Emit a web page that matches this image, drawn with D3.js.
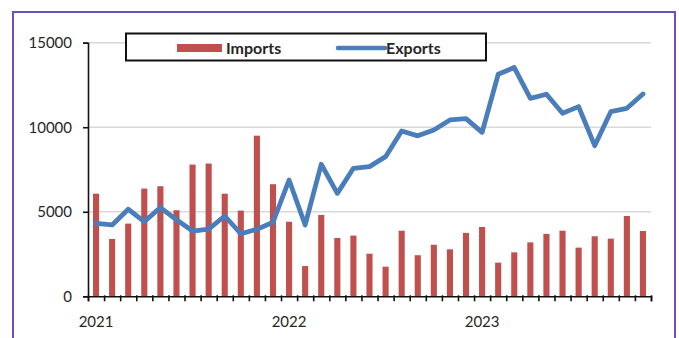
<!DOCTYPE html>
<html>
<head>
<meta charset="utf-8">
<script src="https://cdn.jsdelivr.net/npm/d3@7"></script>
<style>
  html, body { margin: 0; padding: 0; background: #fff; }
  svg { display: block; }
  text { font-family: Lato, "Open Sans", sans-serif; fill: #262626; }
</style>
</head>
<body>
<svg id="chart" width="679" height="338"></svg>
<script>
// Monthly trade, Jan 2021 – Nov 2023
const months = [
  "2021-01","2021-02","2021-03","2021-04","2021-05","2021-06","2021-07","2021-08","2021-09","2021-10","2021-11","2021-12",
  "2022-01","2022-02","2022-03","2022-04","2022-05","2022-06","2022-07","2022-08","2022-09","2022-10","2022-11","2022-12",
  "2023-01","2023-02","2023-03","2023-04","2023-05","2023-06","2023-07","2023-08","2023-09","2023-10","2023-11"
];
const importValues = [
  6070, 3390, 4300, 6370, 6510, 5090, 7790, 7850, 6070, 5070, 9500, 6630,
  4410, 1790, 4810, 3450, 3590, 2520, 1750, 3880, 2430, 3050, 2780, 3750,
  4100, 1990, 2600, 3190, 3690, 3880, 2880, 3550, 3410, 4750, 3860
];
const exportValues = [
  4320, 4220, 5150, 4420, 5250, 4530, 3860, 3980, 4750, 3700, 3960, 4380,
  6880, 4220, 7810, 6090, 7570, 7670, 8260, 9780, 9490, 9840, 10430, 10510,
  9700, 13130, 13530, 11710, 11950, 10830, 11220, 8910, 10920, 11120, 11970
];
const yTicks = [0, 5000, 10000, 15000];
const yearLabels = [
  { month: "2021-01", label: "2021" },
  { month: "2022-01", label: "2022" },
  { month: "2023-01", label: "2023" }
];
const seriesNames = ["Imports", "Exports"];

const RED = "#c0504d";
const BLUE = "#4a7ebb";

const svg = d3.select("#chart");

// outer frame (open at the bottom)
svg.append("path")
  .attr("d", "M13,338 L13,12 L675,12 L675,338")
  .attr("fill", "none")
  .attr("stroke", "#6a4fc0")
  .attr("stroke-width", 2);

const plotLeft = 88, plotRight = 651, plotTop = 42.7, plotBottom = 296.3;

const x = d3.scaleBand()
  .domain(months)
  .range([plotLeft, plotRight])
  .paddingInner(0.62)
  .paddingOuter(0.31);

const xEdge = d3.scaleLinear().domain([0, months.length]).range([plotLeft, plotRight]);

const y = d3.scaleLinear().domain([0, 15000]).range([plotBottom, plotTop]);

// horizontal gridlines
svg.append("g")
  .selectAll("line")
  .data(yTicks.filter(d => d > 0))
  .join("line")
  .attr("x1", plotLeft).attr("x2", plotRight)
  .attr("y1", d => y(d)).attr("y2", d => y(d))
  .attr("stroke", "#d9d9d9")
  .attr("stroke-width", 1.5);

// import bars
svg.append("g")
  .selectAll("rect")
  .data(importValues)
  .join("rect")
  .attr("x", (d, i) => x(months[i]))
  .attr("width", x.bandwidth())
  .attr("y", d => y(d))
  .attr("height", d => y(0) - y(d))
  .attr("fill", RED);

// export line
const line = d3.line()
  .x((d, i) => x(months[i]) + x.bandwidth() / 2)
  .y(d => y(d));

svg.append("path")
  .datum(exportValues)
  .attr("d", line)
  .attr("fill", "none")
  .attr("stroke", BLUE)
  .attr("stroke-width", 4.8)
  .attr("stroke-linejoin", "round")
  .attr("stroke-linecap", "round");

// y axis
const yAxis = svg.append("g")
  .attr("transform", `translate(${plotLeft},0)`)
  .call(d3.axisLeft(y).tickValues(yTicks).tickSize(5).tickPadding(11).tickFormat(d3.format("d")));
yAxis.select(".domain").attr("stroke", "#111").attr("stroke-width", 1.6);
yAxis.selectAll(".tick line").attr("stroke", "#111").attr("stroke-width", 1.6);
yAxis.selectAll(".tick text")
  .attr("font-family", "Lato, sans-serif")
  .attr("font-size", 15)
  .attr("fill", "#262626");

// x axis: ticks on month boundaries
const xAxis = svg.append("g")
  .attr("transform", `translate(0,${plotBottom})`)
  .call(d3.axisBottom(xEdge).tickValues(d3.range(months.length + 1)).tickSize(5).tickFormat(""));
xAxis.select(".domain").attr("stroke", "#111").attr("stroke-width", 1.6);
xAxis.selectAll(".tick line").attr("stroke", "#111").attr("stroke-width", 1.6).attr("y1", -1);

// year labels
svg.append("g")
  .selectAll("text")
  .data(yearLabels)
  .join("text")
  .attr("x", d => x(d.month) + x.bandwidth() / 2)
  .attr("y", 327)
  .attr("text-anchor", "middle")
  .attr("font-size", 15)
  .text(d => d.label);

// legend
const legend = svg.append("g");
legend.append("rect")
  .attr("x", 126).attr("y", 33.5)
  .attr("width", 360).attr("height", 27)
  .attr("fill", "#fff")
  .attr("stroke", "#111")
  .attr("stroke-width", 2);
legend.append("rect")
  .attr("x", 177).attr("y", 44)
  .attr("width", 45).attr("height", 8)
  .attr("fill", RED);
legend.append("text")
  .attr("x", 226).attr("y", 53.5)
  .attr("font-size", 16).attr("font-weight", "bold")
  .attr("fill", "#1a1a1a")
  .text(seriesNames[0]);
legend.append("line")
  .attr("x1", 338).attr("x2", 385)
  .attr("y1", 48).attr("y2", 48)
  .attr("stroke", BLUE).attr("stroke-width", 4.5)
  .attr("stroke-linecap", "round");
legend.append("text")
  .attr("x", 386).attr("y", 53.5)
  .attr("font-size", 16).attr("font-weight", "bold")
  .attr("fill", "#1a1a1a")
  .text(seriesNames[1]);
</script>
</body>
</html>
